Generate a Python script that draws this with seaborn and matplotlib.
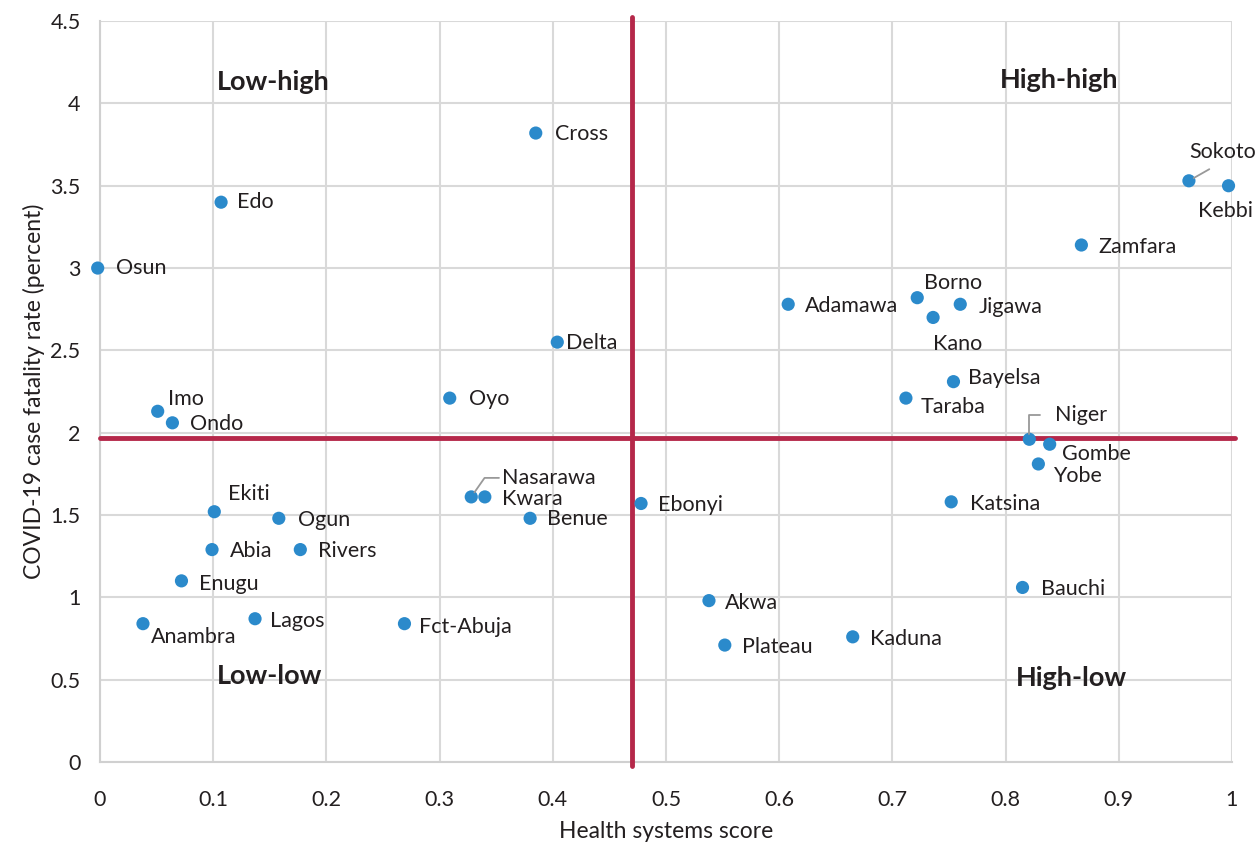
import numpy as np
import pandas as pd
from matplotlib import pyplot as plt
import seaborn as sns

# states, health systems score, covid-19 case fatality rate
states = ['Osun', 'Edo', 'Cross', 'Delta', 'Oyo', 'Imo', 'Ondo', 'Ekiti', 'Ogun',
          'Abia', 'Rivers', 'Enugu', 'Anambra', 'Lagos', 'Fct-Abuja', 'Nasarawa',
          'Kwara', 'Benue', 'Ebonyi', 'Akwa', 'Plateau', 'Kaduna', 'Bauchi',
          'Katsina', 'Yobe', 'Gombe', 'Niger', 'Taraba', 'Bayelsa', 'Adamawa',
          'Borno', 'Kano', 'Jigawa', 'Zamfara', 'Sokoto', 'Kebbi']
healthScore = [-0.002, 0.107, 0.385, 0.404, 0.309, 0.051, 0.064, 0.101, 0.158,
               0.099, 0.177, 0.072, 0.038, 0.137, 0.269, 0.328,
               0.340, 0.380, 0.478, 0.538, 0.552, 0.665, 0.815,
               0.752, 0.829, 0.839, 0.821, 0.712, 0.754, 0.608,
               0.722, 0.736, 0.760, 0.867, 0.962, 0.997]
fatalityRate = [3.0, 3.40, 3.82, 2.55, 2.21, 2.13, 2.06, 1.52, 1.48,
                1.29, 1.29, 1.10, 0.84, 0.87, 0.84, 1.61,
                1.61, 1.48, 1.57, 0.98, 0.71, 0.76, 1.06,
                1.58, 1.81, 1.93, 1.96, 2.21, 2.31, 2.78,
                2.82, 2.70, 2.78, 3.14, 3.53, 3.50]
meanScore = 0.47
meanRate = 1.965
quadrants = ['Low-high', 'High-high', 'Low-low', 'High-low']
quadrantPos = [(0.153, 4.13), (0.847, 4.14), (0.150, 0.52), (0.858, 0.51)]

# label offsets in pixels (dx, dy), dy positive = up
offsets = {'Osun': (18, 0), 'Edo': (16, 0), 'Cross': (19, -1), 'Delta': (9, -1),
           'Oyo': (19, -1), 'Imo': (10, 12), 'Ondo': (18, -1), 'Ekiti': (14, 18),
           'Ogun': (19, -2), 'Abia': (18, -1), 'Rivers': (18, -1), 'Enugu': (18, -3),
           'Anambra': (8, -13), 'Lagos': (15, -2), 'Fct-Abuja': (15, -3),
           'Kwara': (17, -2), 'Benue': (17, -1), 'Ebonyi': (17, -2), 'Akwa': (16, -2),
           'Plateau': (17, -2), 'Kaduna': (17, -2), 'Bauchi': (18, -2),
           'Katsina': (19, -2), 'Yobe': (15, -12), 'Gombe': (12, -10),
           'Taraba': (15, -9), 'Bayelsa': (15, 4), 'Adamawa': (17, -2),
           'Borno': (7, 15), 'Kano': (0, -27), 'Jigawa': (18, -3), 'Zamfara': (17, -2),
           'Kebbi': (-31, -25)}

df = pd.DataFrame({'state': states, 'score': healthScore, 'rate': fatalityRate})

sns.set_style('whitegrid')
plt.rcParams['font.family'] = ['Lato', 'DejaVu Sans']
fig = plt.figure(figsize=(12.59, 8.44), dpi=100)
ax = fig.add_axes([0.0794, 0.0972, 0.8991, 0.8778])

blue = '#2b8acb'
red = '#b5284a'
sns.scatterplot(data=df, x='score', y='rate', ax=ax, color=blue, s=90,
                edgecolor='none', zorder=5, clip_on=False)

ax.axvline(meanScore, ymin=-0.005, ymax=1.005, color=red, lw=3.5, zorder=4, clip_on=False)
ax.axhline(meanRate, xmin=0, xmax=1.003, color=red, lw=3.5, zorder=4, clip_on=False)

txtColor = '#231f20'
fs = 15.5
for name, x, y in zip(states, healthScore, fatalityRate):
    if name in offsets:
        dx, dy = offsets[name]
        ax.annotate(name, (x, y), xytext=(dx, dy), textcoords='offset pixels',
                    ha='left', va='center', fontsize=fs, color=txtColor, zorder=6,
                    annotation_clip=False)

# labels with leader lines
lineProps = dict(arrowstyle='-', color='#999999', lw=1.3, shrinkA=0, shrinkB=4)
i = states.index('Nasarawa')
ax.annotate('Nasarawa', (healthScore[i], fatalityRate[i]), xytext=(31, 19),
            textcoords='offset pixels', ha='left', va='center', fontsize=fs,
            color=txtColor, zorder=6,
            arrowprops=dict(lineProps, relpos=(0, 0.5),
                            connectionstyle='angle,angleA=0,angleB=55,rad=0'))
i = states.index('Niger')
ax.annotate('Niger', (healthScore[i], fatalityRate[i]), xytext=(26, 24),
            textcoords='offset pixels', ha='left', va='center', fontsize=fs,
            color=txtColor, zorder=6,
            arrowprops=dict(lineProps, relpos=(0, 0.5), shrinkA=9,
                            connectionstyle='angle,angleA=0,angleB=90,rad=0'))
i = states.index('Sokoto')
ax.annotate('Sokoto', (healthScore[i], fatalityRate[i]), xytext=(0, 29),
            textcoords='offset pixels', ha='left', va='center', fontsize=fs,
            color=txtColor, zorder=6,
            arrowprops=dict(lineProps, relpos=(0.5, 0), shrinkA=6))

for q, (qx, qy) in zip(quadrants, quadrantPos):
    ax.text(qx, qy, q, ha='center', va='center', fontsize=19.5, fontweight='bold',
            color=txtColor, zorder=6)

ax.set_xlim(0, 1)
ax.set_ylim(0, 4.5)
ax.set_xticks(np.arange(0, 1.01, 0.1))
ax.set_xticklabels(['0', '0.1', '0.2', '0.3', '0.4', '0.5', '0.6', '0.7', '0.8', '0.9', '1'])
ax.set_yticks(np.arange(0, 4.51, 0.5))
ax.set_yticklabels(['0', '0.5', '1', '1.5', '2', '2.5', '3', '3.5', '4', '4.5'])
ax.tick_params(axis='both', length=0, labelsize=15.5, colors=txtColor)
ax.tick_params(axis='x', pad=20)
ax.tick_params(axis='y', pad=14)
ax.grid(True, color='#d9d9d9', lw=1.5)
for side in ['top', 'right']:
    ax.spines[side].set_visible(False)
for side in ['left', 'bottom']:
    ax.spines[side].set_color('#d0d0d0')
    ax.spines[side].set_linewidth(1.5)
ax.set_xlabel('Health systems score', fontsize=16.5, color=txtColor, labelpad=8)
ax.set_ylabel('COVID-19 case fatality rate (percent)', fontsize=16.5, color=txtColor, labelpad=4)

plt.savefig('out.png', dpi=100)
